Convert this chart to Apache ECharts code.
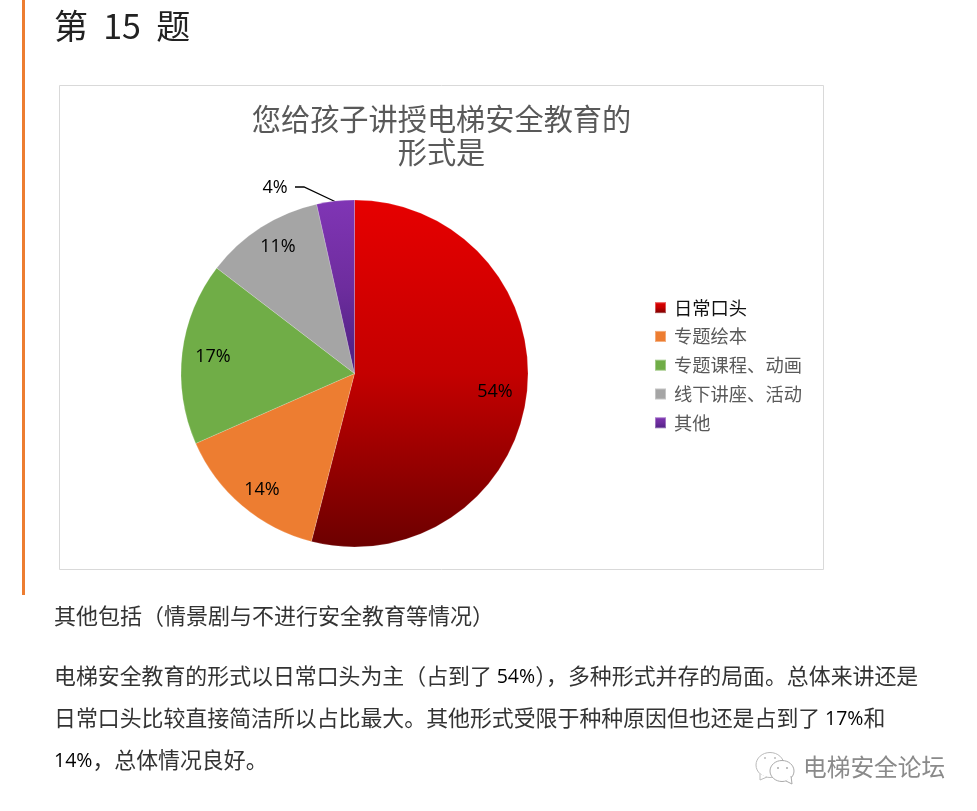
<!DOCTYPE html>
<html><head><meta charset="utf-8">
<style>html,body{margin:0;padding:0;background:#fff}#c{width:977px;height:811px}</style>
<script src="https://cdn.jsdelivr.net/npm/echarts@6/dist/echarts.min.js"></script>
</head><body><div id="c"></div>
<script>
const categories = ['日常口头','专题绘本','专题课程、动画','线下讲座、活动','其他'];
const values = [54,14.4,17,11.1,3.5];
const heading = '第  15  题';
const chartTitle = '您给孩子讲授电梯安全教育的\n形式是';
const note = '其他包括（情景剧与不进行安全教育等情况）';
const para = ['电梯安全教育的形式以日常口头为主（占到了 {n|54%}），多种形式并存的局面。总体来讲还是',
  '日常口头比较直接简洁所以占比最大。其他形式受限于种种原因但也还是占到了 {n|17%}和',
  '{n|14%}，总体情况良好。'];
const brand = '电梯安全论坛';
const CN = '"Noto Sans CJK SC","Noto Sans",sans-serif';
const LAT = '"Open Sans",'+CN;
const grad = (stops)=>({type:'linear',x:0,y:0,x2:0,y2:1,colorStops:stops.map((c,i)=>({offset:i/(stops.length-1),color:c}))});
const fills = [grad(['#e60000','#c40000','#6c0000']),'#ed7d31','#70ad47','#a5a5a5',grad(['#8035b5','#6e2d9e','#4a2080'])];
const labelAt = [[495,392],[262,490],[213,357],[278,247],[275,188]];
const chart = echarts.init(document.getElementById('c'),null,{renderer:'canvas'});
const txt=(x,y,s,size,color,extra)=>({type:'text',x,y,silent:true,style:Object.assign({text:s,font:size+'px '+CN,fill:color,verticalAlign:'middle'},extra||{})});
const numRich={rich:{n:{fontSize:19.5,fontFamily:LAT,fill:'#000',verticalAlign:'middle',padding:[3,0,0,0]}}};
chart.setOption({
  animation:false,
  backgroundColor:'#fff',
  title:{text:chartTitle,left:436.5,top:97,textAlign:'center',textStyle:{fontFamily:CN,fontSize:29.2,fontWeight:'normal',color:'#595959',lineHeight:33}},
  legend:{orient:'vertical',left:654,top:298.5,padding:0,icon:'rect',itemWidth:11,itemHeight:11,itemGap:10.5,
    data:categories.map((n,i)=>({name:n,textStyle:{color:i===0?'#111':'#595959'}})),
    textStyle:{fontFamily:CN,fontSize:18.3,color:'#595959',padding:[0,0,0,3]}},
  graphic:[
    {type:'rect',z:-1,shape:{x:22,y:0,width:3,height:595},style:{fill:'#ed7d31'},silent:true},
    {type:'rect',z:-1,shape:{x:59.5,y:85.5,width:764,height:484},style:{fill:'#fff',stroke:'#d9d9d9',lineWidth:1},silent:true},
    txt(54,26,heading,34,'#222'),
    txt(54,616,note,22,'#333'),
    txt(54,676,para[0],21.9,'#333',numRich),
    txt(54,718,para[1],21.9,'#333',numRich),
    txt(54,760,para[2],21.9,'#333',numRich),
    txt(803,767,brand,23.7,'#8a8a8a'),
    {type:'group',x:0,y:0,silent:true,children:[
      {type:'ellipse',shape:{cx:770,cy:765,rx:14,ry:12.5},style:{fill:'#fff',stroke:'#bbb',lineWidth:1}},
      {type:'polyline',shape:{points:[[760,774],[760,780],[767,777]]},style:{fill:'#fff',stroke:'#bbb',lineWidth:1}},
      {type:'ellipse',shape:{cx:782,cy:771,rx:12,ry:10.5},style:{fill:'#fff',stroke:'#aaa',lineWidth:1}},
      {type:'polyline',shape:{points:[[786,781],[792,784],[791,776]]},style:{fill:'#fff',stroke:'#aaa',lineWidth:1}},
      {type:'circle',shape:{cx:765,cy:758,r:1},style:{fill:'#bbb'}},
      {type:'circle',shape:{cx:775,cy:758,r:1},style:{fill:'#bbb'}},
      {type:'circle',shape:{cx:778,cy:768,r:1},style:{fill:'#aaa'}},
      {type:'circle',shape:{cx:787,cy:768,r:1},style:{fill:'#aaa'}}
    ]}
  ],
  series:[{type:'pie',center:[354.5,373.5],radius:[0,173.5],startAngle:90,clockwise:true,percentPrecision:0,
    avoidLabelOverlap:false,silent:true,
    data:categories.map((n,i)=>({name:n,value:values[i],itemStyle:{color:fills[i],borderColor:'rgba(255,255,255,0.35)',borderWidth:0.5},
      label:{show:true,position:i===4?'outside':'inside'},labelLine:{show:i===4,lineStyle:{color:'#000',width:1.3}}})),
    label:{formatter:'{d}%',fontFamily:LAT,fontSize:18,color:'#000'},
    labelLayout:p=>{const a=labelAt[p.dataIndex];
      const o={x:a[0],y:a[1],align:'center',verticalAlign:'middle'};
      if(p.dataIndex===4)o.labelLinePoints=[[336,202],[304,187],[295,187]];
      return o;}
  }]
});
</script></body></html>
